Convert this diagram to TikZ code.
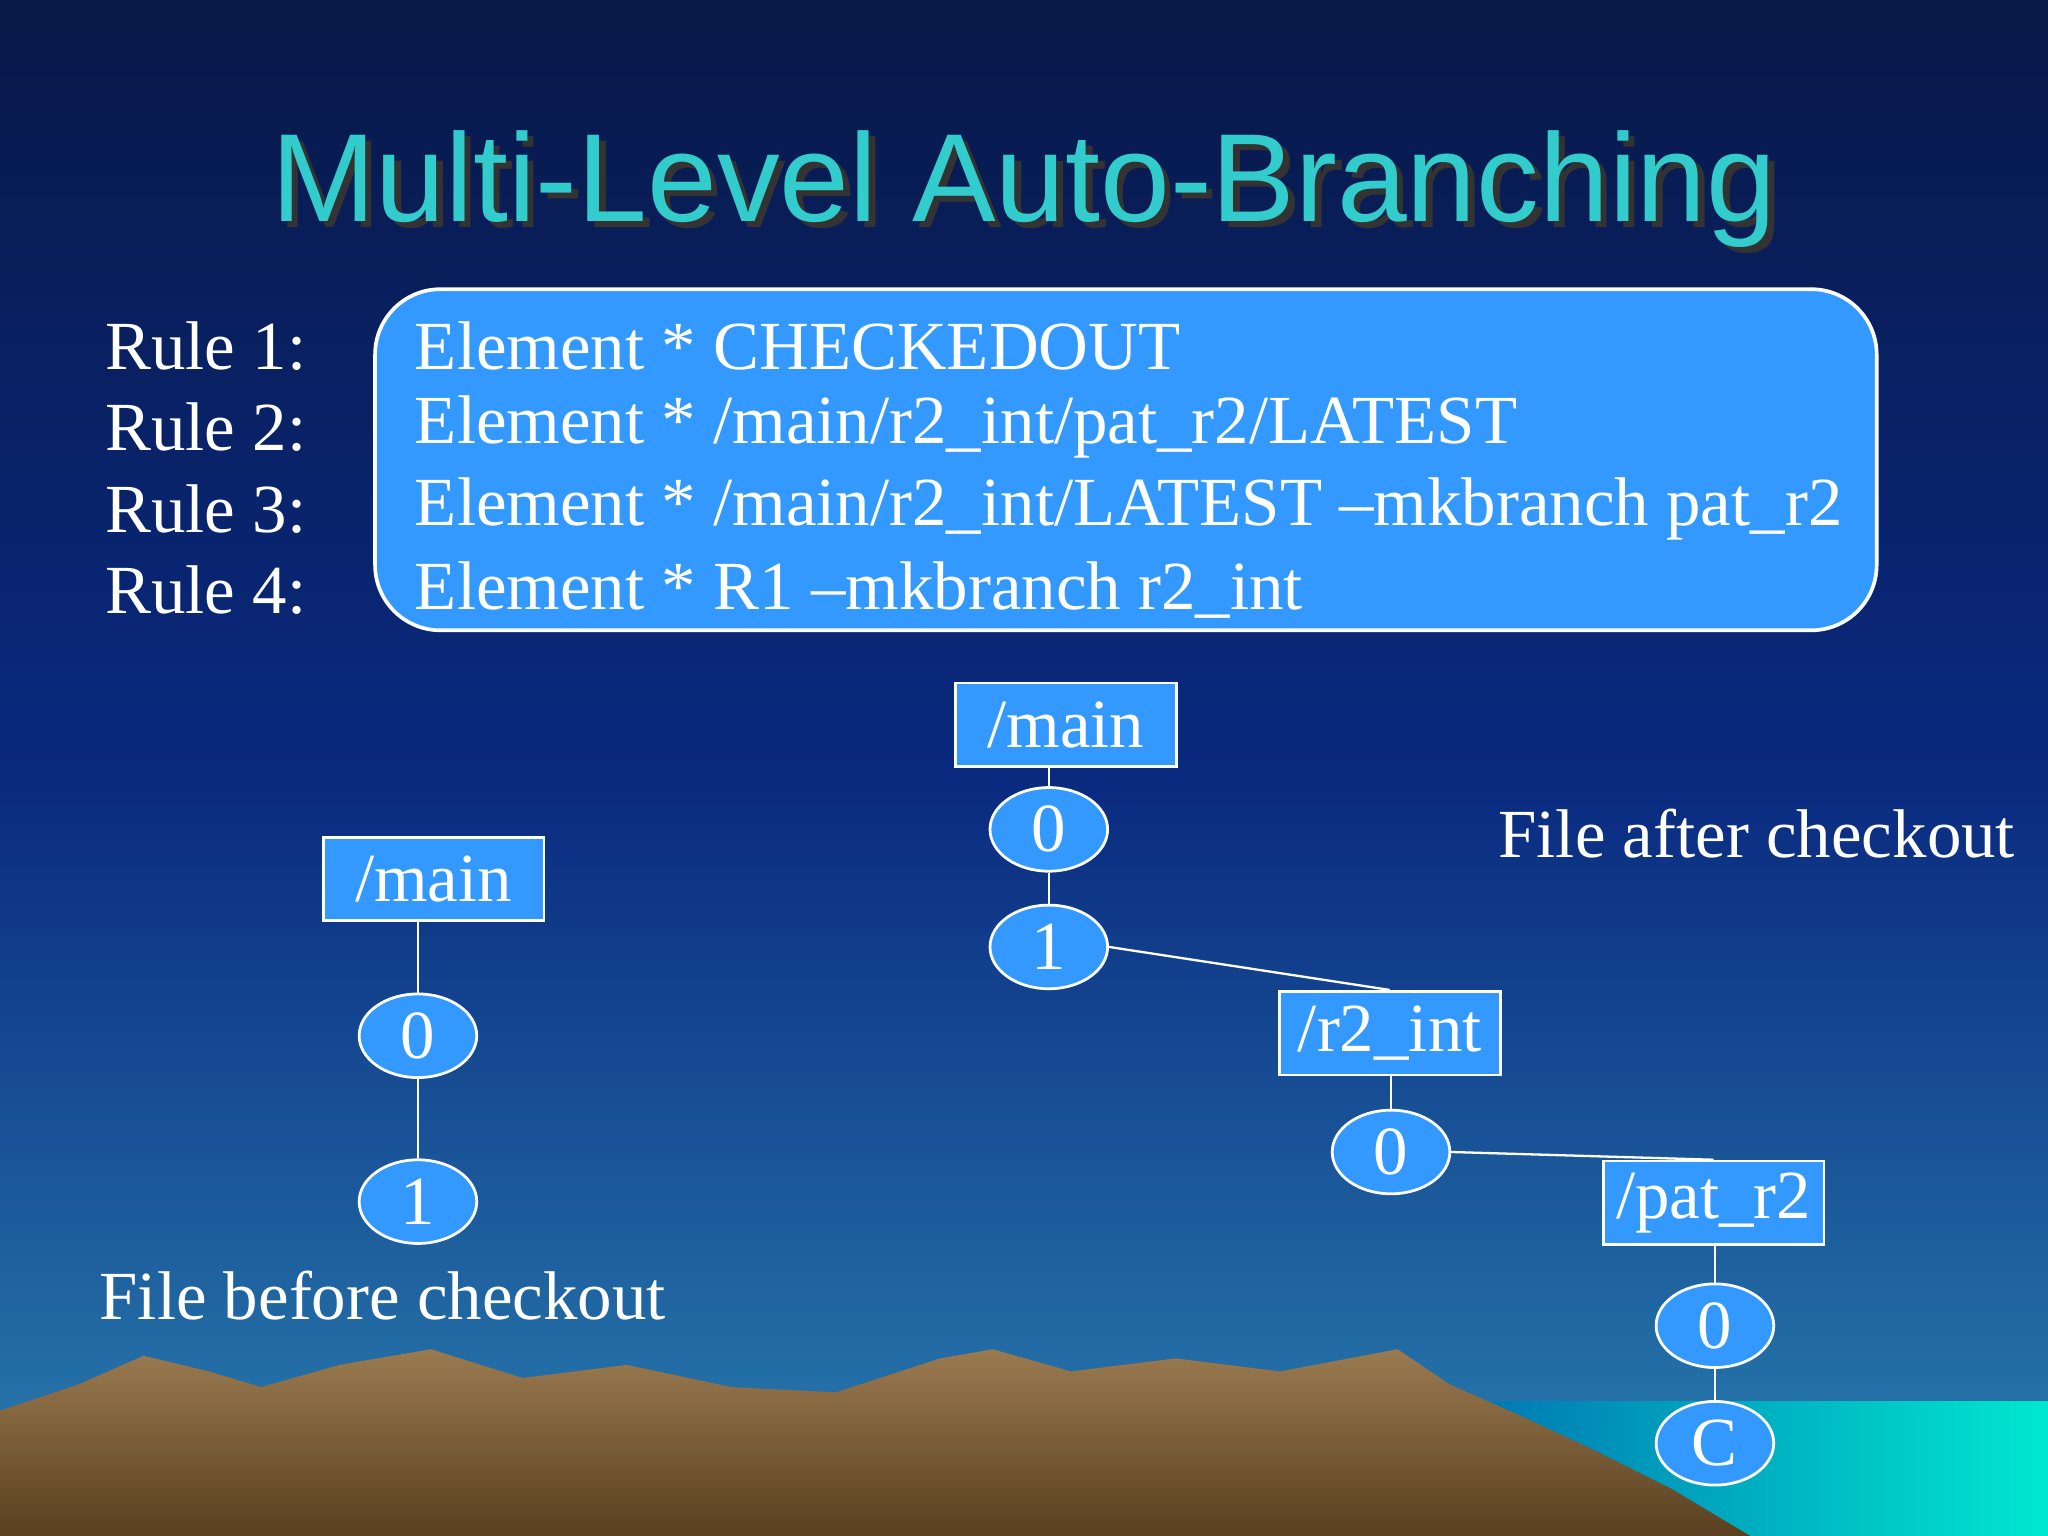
\documentclass[tikz,border=0pt]{standalone}
\usepackage{fontspec}
\setmainfont{Liberation Serif}
\newfontfamily\titlefont{Liberation Sans}
\usetikzlibrary{shapes.geometric}
\definecolor{boxblue}{HTML}{3399FF}
\definecolor{titlecol}{HTML}{33CCCC}
\definecolor{navy}{HTML}{081848}
\definecolor{midblue}{HTML}{0A2A80}
\definecolor{lowblue}{HTML}{2A80B0}
\definecolor{mtn}{HTML}{5A4020}
\definecolor{mtnlight}{HTML}{9A7A50}
\definecolor{sea}{HTML}{00E8D0}
\definecolor{seadark}{HTML}{0070B0}
\tikzset{
  txt/.style={font=\fontsize{15}{17}\selectfont, text=white, inner sep=0pt},
  vbox/.style={draw=white, fill=boxblue, line width=0.6pt, minimum width=1.69cm, minimum height=0.64cm, inner sep=0pt, font=\fontsize{15}{17}\selectfont, text=white},
  ver/.style={ellipse, draw=white, fill=boxblue, line width=0.6pt, minimum width=0.9cm, minimum height=0.64cm, inner sep=0pt, font=\fontsize{15}{17}\selectfont, text=white},
  link/.style={draw=white, line width=0.5pt}
}
\begin{document}
\begin{tikzpicture}[x=0.01cm,y=-0.01cm]
\useasboundingbox (0,0) rectangle (1568,1176);
\shade[top color=navy, bottom color=midblue] (0,0) rectangle (1568,600);
\shade[top color=midblue, bottom color=lowblue] (0,599) rectangle (1568,1176);
\shade[left color=seadark, right color=sea] (1100,1073) rectangle (1568,1176);
\shade[top color=mtnlight, bottom color=mtn] (0,1080) -- (60,1060) -- (110,1038) -- (160,1050) -- (200,1062) -- (260,1045) -- (330,1033) -- (400,1055) -- (480,1045) -- (560,1062) -- (640,1066) -- (720,1040) -- (760,1033) -- (820,1050) -- (900,1040) -- (980,1050) -- (1070,1033) -- (1110,1060) -- (1160,1082) -- (1220,1110) -- (1280,1140) -- (1340,1176) -- (0,1176) -- cycle;
% title
\node[font=\titlefont\fontsize{27.3}{32}\selectfont, text=black!80, inner sep=0pt] at (789,149) {Multi-Level Auto-Branching};
\node[font=\titlefont\fontsize{27.3}{32}\selectfont, text=titlecol, inner sep=0pt] (title) at (784,145) {Multi-Level Auto-Branching};
% rules
\node[draw=white, fill=boxblue, line width=0.8pt, rounded corners=0.5cm, minimum width=11.49cm, minimum height=2.61cm] (rbox) at (862,352) {};
\foreach \i/\y/\t in {1/265/{Element * CHECKEDOUT},2/327/{Element * /main/r2\_int/pat\_r2/LATEST},3/390/{Element * /main/r2\_int/LATEST --mkbranch pat\_r2},4/452/{Element * R1 --mkbranch r2\_int}}{
  \node[txt, anchor=west] (rl\i) at (80,\y) {Rule \i:};
  \node[txt, anchor=west] (rt\i) at (317,\y) {\t};
}
% left tree
\node[vbox] (lm) at (332,673) {/main};
\node[ver] (l0) at (320,793) {0};
\node[ver] (l1) at (320,920) {1};
\draw[link] (l0.north) -- (l0.north |- lm.south);
\draw[link] (l0.south) -- (l1.north);
\node[txt] (before) at (293,992) {File before checkout};
% right tree
\node[vbox] (rm) at (816,555) {/main};
\node[ver] (r0) at (803,635) {0};
\node[ver] (r1) at (803,725) {1};
\node[vbox] (ri) at (1064,791) {/r2\_int};
\node[ver] (i0) at (1065,882) {0};
\node[vbox] (rp) at (1312,921) {/pat\_r2};
\node[ver] (p0) at (1313,1015) {0};
\node[ver] (pc) at (1313,1105) {C};
\draw[link] (r0.north) -- (r0.north |- rm.south);
\draw[link] (r0.south) -- (r1.north);
\draw[link] (r1.east) -- (ri.north);
\draw[link] (i0.north) -- (i0.north |- ri.south);
\draw[link] (i0.east) -- (rp.north);
\draw[link] (p0.north) -- (p0.north |- rp.south);
\draw[link] (p0.south) -- (pc.north);
\node[txt] (after) at (1345,638) {File after checkout};
\end{tikzpicture}
\end{document}
